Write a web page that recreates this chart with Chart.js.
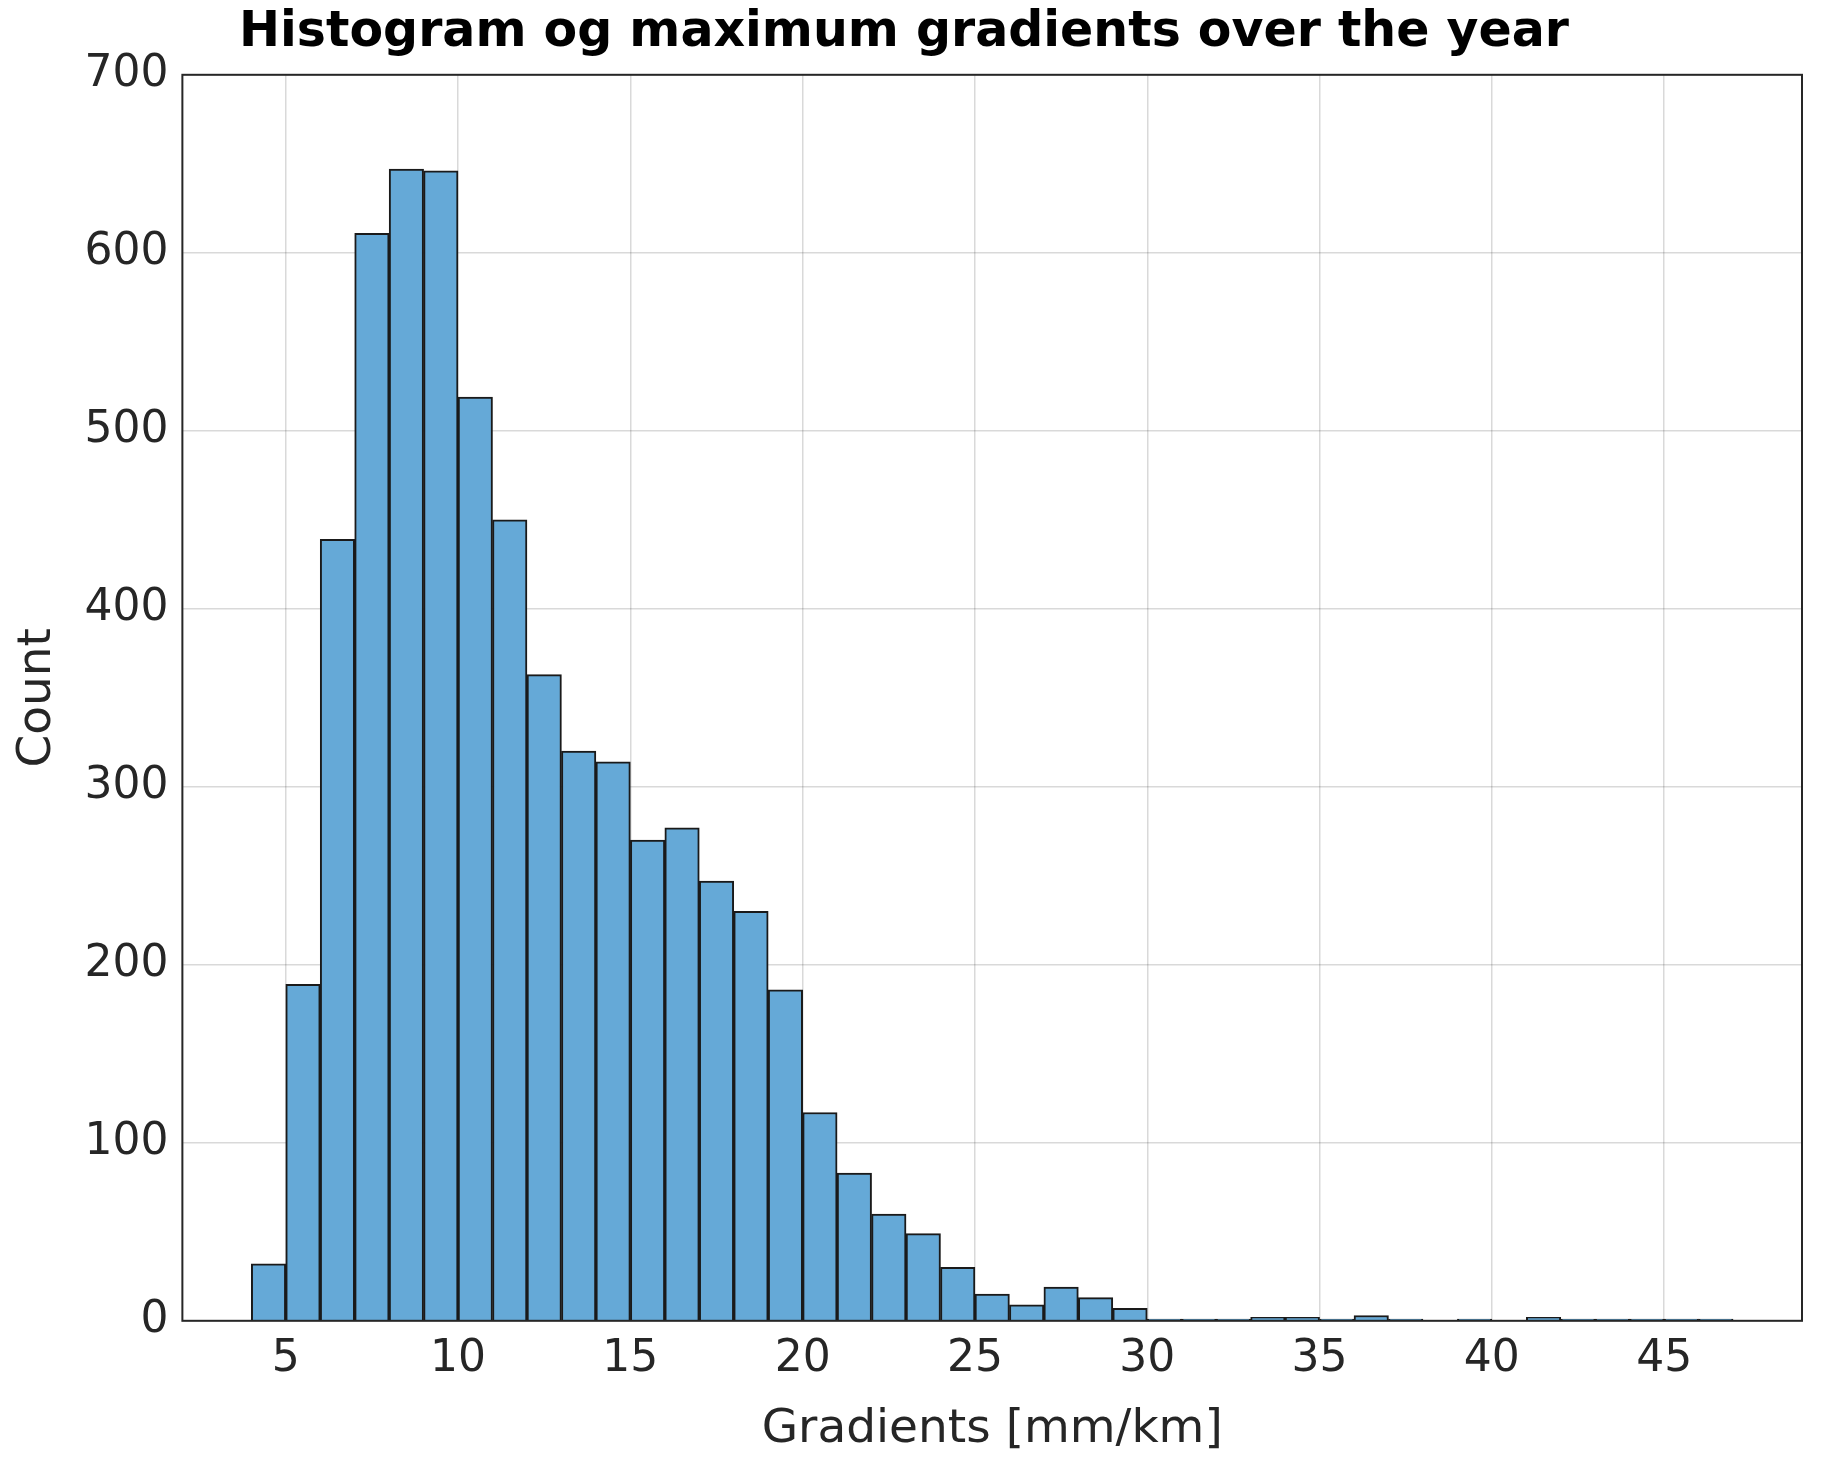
<!DOCTYPE html><html><head><script src="https://cdn.jsdelivr.net/npm/chart.js@4"></script>
<style>body{margin:0;background:#fff}#w{width:1830px;height:1470px}</style></head><body><div id="w"><canvas id="c"></canvas></div>
<script>
const binStarts=[4,5,6,7,8,9,10,11,12,13,14,15,16,17,18,19,20,21,22,23,24,25,26,27,28,29,30,31,32,33,34,35,36,37,38,39,40,41,42,43,44,45,46];
const counts=[32,189,439,611,647,646,519,450,363,320,314,270,277,247,230,186,117,83,60,49,30,15,9,19,13,7,1,1,1,2,2,1,3,1,0,1,0,2,1,1,1,1,1];
const title='Histogram og maximum gradients over the year';
const xTitle='Gradients [mm/km]', yTitle='Count';
const frame={id:'frame',afterDraw(c){const a=c.chartArea,x=c.ctx;x.save();x.strokeStyle='#262626';x.lineWidth=2;x.strokeRect(a.left,a.top,a.right-a.left,a.bottom-a.top);x.restore();}};
const tc='#262626',f='DejaVu Sans';
new Chart(document.getElementById('c'),{type:'bar',data:{datasets:[{data:binStarts.map((b,i)=>({x:b+0.5,y:counts[i]})),backgroundColor:'#65a9d7',borderColor:'#1a1a1a',borderWidth:2,barPercentage:1,categoryPercentage:1,grouped:false}]},
options:{responsive:true,maintainAspectRatio:false,animation:false,layout:{padding:{right:28,top:0,left:6,bottom:8}},
plugins:{legend:{display:false},tooltip:{enabled:false},title:{display:true,text:title,color:'#000',font:{family:f,size:49,weight:'bold'},padding:{top:4,bottom:12}}},
scales:{x:{type:'linear',offset:false,min:2,max:49,ticks:{stepSize:1,maxTicksLimit:100,callback:v=>(v%5===0&&v>=5&&v<=45)?String(v):'',color:tc,font:{family:f,size:44},autoSkip:false,maxRotation:0,padding:12},grid:{offset:false,color:c=>(c.tick&&c.tick.value%5===0&&c.tick.value>=5&&c.tick.value<=45)?'rgba(0,0,0,0.15)':'rgba(0,0,0,0)',lineWidth:1.5,tickLength:0},border:{display:false},title:{display:true,text:xTitle,color:tc,font:{family:f,size:47}}},
y:{min:0,max:700,ticks:{stepSize:100,color:tc,font:{family:f,size:44},padding:14},grid:{color:'rgba(0,0,0,0.15)',lineWidth:1.5,tickLength:0},border:{display:false},title:{display:true,text:yTitle,color:tc,font:{family:f,size:47}}}}},plugins:[frame]});
</script></body></html>
